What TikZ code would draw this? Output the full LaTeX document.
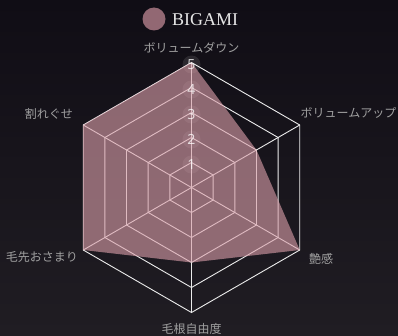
\documentclass[tikz,border=0pt]{standalone}
\usepackage{fontspec}
\setmainfont{Liberation Serif}
\newfontfamily\jpfont{Noto Sans CJK JP}
\newfontfamily\numfont{Noto Sans}
\definecolor{bgtop}{RGB}{16,13,21}
\definecolor{bgbot}{RGB}{32,29,35}
\definecolor{gridc}{RGB}{236,236,236}
\definecolor{areac}{RGB}{216,157,168}
\definecolor{legc}{RGB}{146,104,115}
\definecolor{labc}{RGB}{160,160,160}
\definecolor{titlec}{RGB}{230,230,230}
\tikzset{
  gridline/.style={draw=gridc, line width=0.9pt},
  axlabel/.style={font=\jpfont\fontsize{12}{12}\selectfont, text=labc, inner sep=0pt},
  tickdisc/.style={fill=white, fill opacity=0.1},
  ticklab/.style={text=white, text opacity=0.75, inner sep=0pt, font=\numfont\fontsize{14}{14}\selectfont},
  area/.style={fill=areac, fill opacity=0.62}
}
\begin{document}
\begin{tikzpicture}[x=1pt,y=1pt]
\useasboundingbox (-191.5,-147.5) rectangle (206.5,187.5);
\shade[top color=bgtop, bottom color=bgbot] (-191.5,-147.5) rectangle (206.5,187.5);
% legend
\fill[legc] (-37.5,168.5) circle (11.5);
\node[anchor=west, inner sep=0pt, text=titlec, font=\fontsize{18}{18}\selectfont] (leg) at (-19.5,168) {BIGAMI};
% grid
\foreach \k in {1,...,5}{
  \draw[gridline] (90:25*\k) -- (30:25*\k) -- (-30:25*\k) -- (-90:25*\k) -- (-150:25*\k) -- (150:25*\k) -- cycle;
}
\coordinate (c) at (0,0);
\foreach \a in {90,30,-30,-90,-150,150}{
  \draw[gridline] (c) -- (\a:125);
}
\foreach \k in {1,...,5}{
  \fill[tickdisc] (0,25*\k-2) circle (9);
}
% data area
\fill[area] (90:125) -- (30:75) -- (-30:125) -- (-90:75) -- (-150:125) -- (150:125) -- cycle;
% ticks
\foreach \k in {1,...,5}{
  \node[ticklab] (t\k) at (0,25*\k-2) {\k};
}
% axis labels
\node[axlabel] (l1) at (0,139.5) {ボリュームダウン};
\node[axlabel, anchor=west] (l2) at (109,75) {ボリュームアップ};
\node[axlabel, anchor=west] (l3) at (117.5,-71) {艶感};
\node[axlabel] (l4) at (0,-141.5) {毛根自由度};
\node[axlabel, anchor=east] (l5) at (-113.5,-69) {毛先おさまり};
\node[axlabel, anchor=east] (l6) at (-118.5,73.5) {割れぐせ};
\end{tikzpicture}
\end{document}
